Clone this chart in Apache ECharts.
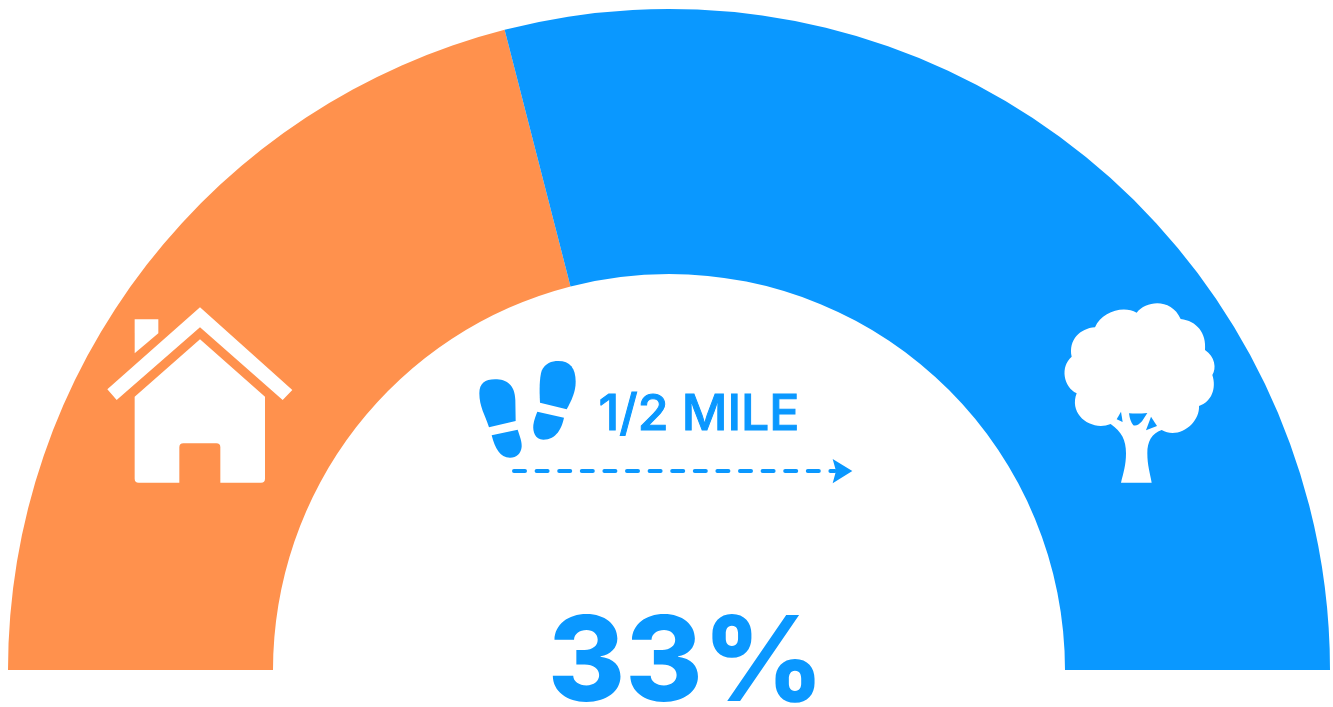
<!DOCTYPE html>
<html>
<head>
<meta charset="utf-8">
<style>
  html, body { margin: 0; padding: 0; background: #fff; }
  #main { width: 1333px; height: 707px; }
</style>
<script src="https://cdn.jsdelivr.net/npm/echarts@6/dist/echarts.min.js"></script>
</head>
<body>
<div id="main"></div>
<script>
const categories = ['Home', 'Park']
const shares = [42, 58]
const shareLabel = '33%'
const distanceLabel = '1/2 MILE'

const ORANGE = '#FF914D'
const BLUE = '#0A98FF'

// icon outlines, traced at 3x, placed with a 1/3 scale
const housePaths = [
  'M330 52 L607 300 L578 330 L330 112 L80 330 L52 298 Z',
  'M134 88 L205 88 L205 130 L134 190 Z',
  'M330 148 L525 320 L525 566 Q525 578 513 578 L391 578 L391 472 Q391 460 379 460 L280 460 Q268 460 268 472 L268 578 L146 578 Q134 578 134 566 L134 320 Z'
]
const treePath = 'M260 68 C290 30 365 25 392 87 C440 92 470 130 465 180 C495 200 500 235 487 255 C500 295 485 335 447 348 C450 400 385 450 335 420 C305 430 292 455 292 490 C292 525 300 550 305 578 L213 578 C220 550 228 525 228 490 C228 450 215 425 182 402 C125 425 55 375 80 310 C40 290 30 230 65 200 C55 150 90 115 135 112 C155 65 220 45 260 68 Z'
const treeHoles = [
  'M213 365 L218 396 L200 388 Z',
  'M237 370 Q265 372 292 369 L276 394 Q262 410 250 406 Q240 395 237 370 Z',
  'M303 380 L321 408 L288 421 Z'
]
const stepPaths = [
  'M240 158 C238 120 238 85 245 62 C255 40 275 33 295 33 C330 33 347 55 347 95 C347 125 335 150 320 178 Z',
  'M232 185 L312 203 C305 235 290 268 250 269 C225 269 218 245 220 225 C222 210 228 195 232 185 Z',
  'M87 232 C75 195 58 170 58 130 C58 100 75 88 105 88 C140 88 165 105 166 150 L167 213 Z',
  'M95 256 L173 239 C180 260 186 275 185 290 C183 310 170 323 150 323 C120 323 105 295 95 256 Z'
]
const arrowHead = 'M1118 327 L1177 363 L1118 400 L1128 363 Z'

function iconEl(pathData, x, y, color) {
  return {
    type: 'path',
    x: x,
    y: y,
    scaleX: 1 / 3,
    scaleY: 1 / 3,
    shape: { pathData: pathData },
    style: { fill: color }
  }
}

const myChart = echarts.init(document.getElementById('main'))

const option = {
  animation: false,
  backgroundColor: '#fff',
  series: [
    {
      type: 'pie',
      z: 1,
      center: [669, 670],
      radius: [396, 661],
      startAngle: 180,
      endAngle: 0,
      silent: true,
      label: { show: false },
      labelLine: { show: false },
      data: categories.map((name, i) => ({
        name: name,
        value: shares[i],
        itemStyle: { color: [ORANGE, BLUE][i] }
      }))
    },
    {
      // icons have no data of their own, one pass draws them all
      type: 'custom',
      z: 5,
      coordinateSystem: 'none',
      silent: true,
      data: [0],
      renderItem: function () {
        const children = []
        housePaths.forEach(p => children.push(iconEl(p, 90, 290, '#fff')))
        children.push(iconEl(treePath, 1050, 290, '#fff'))
        treeHoles.forEach(p => children.push(iconEl(p, 1050, 290, BLUE)))
        stepPaths.forEach(p => children.push(iconEl(p, 460, 350, BLUE)))
        children.push(iconEl(arrowHead, 460, 350, BLUE))
        return { type: 'group', children: children }
      }
    }
  ],
  graphic: [
    {
      type: 'line',
      shape: { x1: 514, y1: 471, x2: 835, y2: 471 },
      style: { stroke: BLUE, lineWidth: 4, lineCap: 'round', lineDash: [11, 11.6] }
    },
    {
      type: 'text',
      x: 699,
      y: 415,
      style: {
        text: distanceLabel,
        fill: BLUE,
        stroke: BLUE,
        lineWidth: 1,
        font: '500 50px Inter',
        textAlign: 'center',
        textVerticalAlign: 'middle'
      }
    },
    {
      type: 'text',
      x: 686,
      y: 666,
      style: {
        text: shareLabel,
        fill: BLUE,
        font: '800 118px Inter',
        textAlign: 'center',
        textVerticalAlign: 'middle'
      }
    }
  ]
}

myChart.setOption(option)
</script>
</body>
</html>
